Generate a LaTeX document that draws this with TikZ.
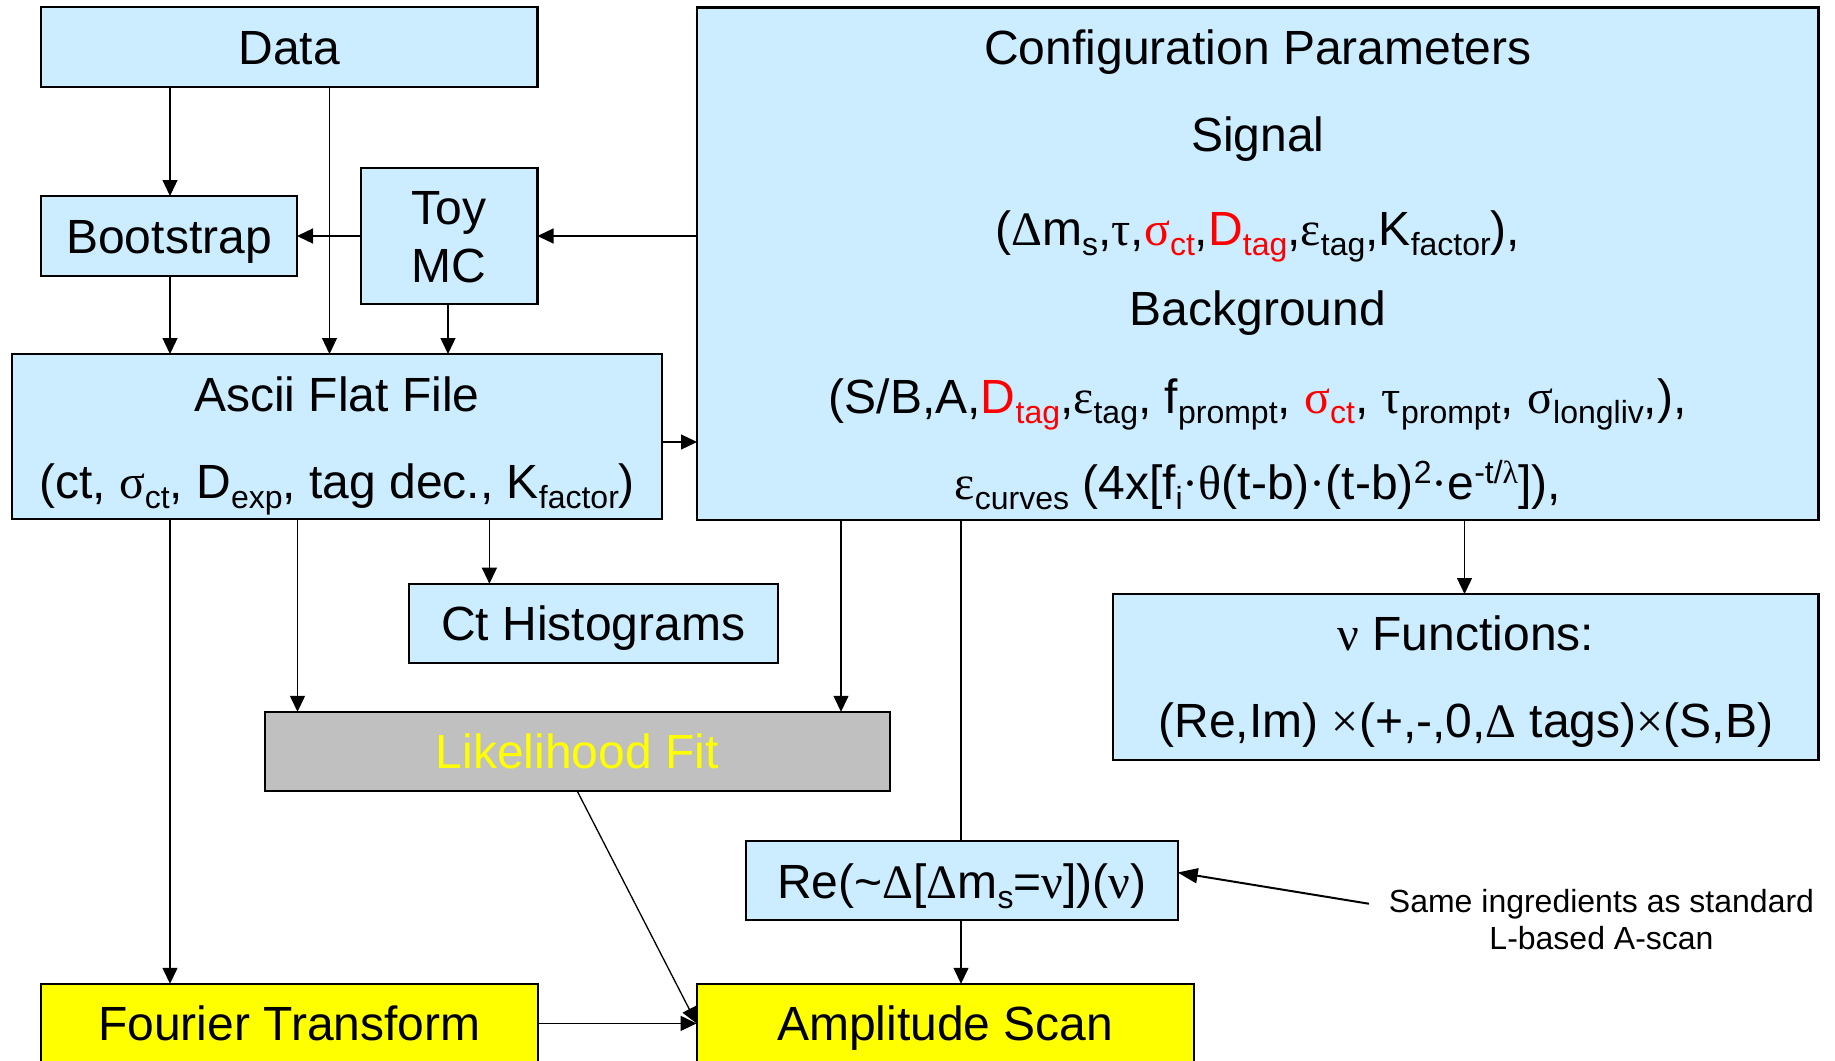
\documentclass[tikz,border=0pt]{standalone}
\usepackage{fontspec}
\usepackage{graphicx}
\setmainfont{Liberation Sans}
\newfontfamily\grk{Liberation Serif}
\usetikzlibrary{arrows.meta,calc}
\definecolor{lb}{HTML}{CCECFF}
\definecolor{gy}{HTML}{C0C0C0}
\definecolor{yl}{HTML}{FFFF00}
\definecolor{rd}{HTML}{FF0000}
\newcommand\gk[1]{{\grk #1}}
\newcommand\sbs[1]{\raisebox{-5pt}{\fontsize{16pt}{16pt}\selectfont #1}}
\newcommand\sps[1]{\raisebox{8pt}{\fontsize{16pt}{16pt}\selectfont #1}}
\newcommand\bx[6]{\node[#1, minimum width={(#4-#2)*0.5pt}, minimum height={(#5-#3)*0.5pt}] (#6) at (#2,#3) {};}
\begin{document}
\begin{tikzpicture}[x=0.5pt,y=-0.5pt,
  box/.style={draw=black, line width=1.1pt, inner sep=0pt, outer sep=0pt, anchor=north west, rectangle},
  lbox/.style={box, fill=lb},
  gbox/.style={box, fill=gy},
  ybox/.style={box, fill=yl},
  txt/.style={inner sep=0pt, outer sep=0pt, anchor=base, font=\fontsize{24pt}{28pt}\selectfont},
  small/.style={inner sep=0pt, outer sep=0pt, anchor=base, font=\fontsize{16pt}{19pt}\selectfont},
  arr/.style={line width=0.65pt, -{Triangle[length=8pt,width=7.5pt]}},
  arrb/.style={line width=1pt, -{Triangle[length=10pt,width=7.5pt]}},
  ln/.style={line width=0.65pt}]
\useasboundingbox (0,0) rectangle (1835,1060);
\clip (0,0) rectangle (1835,1060);

% boxes
\bx{lbox}{41}{7.3}{537.5}{87.3}{data}
\bx{lbox}{41}{196}{297}{276}{boot}
\bx{lbox}{361}{168}{537.5}{304}{toy}
\bx{lbox}{12}{354}{662}{519}{ascii}
\bx{lbox}{697}{7.4}{1818.5}{519.6}{conf}
\bx{lbox}{409}{583.7}{777.6}{662.9}{cth}
\bx{gbox}{265}{711.8}{889.7}{791.3}{lik}
\bx{lbox}{1113.3}{594}{1818.4}{760}{nu}
\bx{lbox}{745.6}{841}{1177.7}{920}{re}
\bx{ybox}{41}{983.8}{537.6}{1080}{four}
\bx{ybox}{696.6}{983.8}{1193.7}{1080}{amp}

% texts
\node[txt] (datat) at (289.25,64) {Data};
\node[txt] (boott) at (169,253) {Bootstrap};
\node[txt] (toyt1) at (449.25,224) {Toy};
\node[txt] (toyt2) at (449.25,282.7) {MC};
\node[txt] (asct1) at (337,411.7) {Ascii Flat File};
\node[txt] (asct2) at (337,498) {(ct, \gk{σ}\sbs{ct}, D\sbs{exp}, tag dec., K\sbs{factor})};
\node[txt] (conft1) at (1257.75,64) {Configuration Parameters};
\node[txt] (conft2) at (1257.75,151.5) {Signal};
\node[txt] (conft3) at (1257.75,245.5) {(\gk{Δ}m\sbs{s},\gk{τ},\textcolor{rd}{\gk{σ}\sbs{ct}},\textcolor{rd}{D\sbs{tag}},\gk{ε}\sbs{tag},K\sbs{factor}),};
\node[txt] (conft4) at (1257.75,325) {Background};
\node[txt] (conft5) at (1257.75,413.5) {(S/B,A,\textcolor{rd}{D\sbs{tag}},\gk{ε}\sbs{tag}, f\sbs{prompt}, \textcolor{rd}{\gk{σ}\sbs{ct}}, \gk{τ}\sbs{prompt}, \gk{σ}\sbs{longliv},),};
\node[txt] (conft6) at (1257.75,499) {\gk{ε}\sbs{curves} (4x[f\sbs{i}\gk{·θ}(t-b)\gk{·}(t-b)\sps{2}\gk{·}e\sps{-t/\gk{λ}}]),};
\node[txt] (ctht) at (593.3,640.5) {Ct Histograms};
\node[txt, text=yl] (likt) at (577.35,768.6) {Likelihood Fit};
\node[txt] (nut1) at (1465.85,650.9) {\gk{ν} Functions:};
\node[txt] (nut2) at (1465.85,737.6) {(Re,Im) \gk{×}(+,-,0,\gk{Δ} tags)\gk{×}(S,B)};
\node[txt] (ret) at (961.65,898.8) {Re(\textasciitilde\gk{Δ}[\gk{Δ}m\sbs{s}=\gk{ν}])(\gk{ν})};
\node[txt] (fourt) at (289.3,1040.7) {Fourier Transform};
\node[txt] (ampt) at (945.15,1040) {Amplitude Scan};
\node[small] (note1) at (1601.5,912) {Same ingredients as standard};
\node[small] (note2) at (1601.5,949.7) {L-based A-scan};

% helper coordinates
\coordinate (x170) at (170,0);
\coordinate (x298) at (297.5,0);
\coordinate (x330) at (329.5,0);
\coordinate (x448) at (448,0);
\coordinate (x489) at (489.4,0);
\coordinate (x841) at (841,0);
\coordinate (x961) at (961,0);
\coordinate (x1465) at (1464.5,0);
\coordinate (y236) at (0,236);
\coordinate (y442) at (0,442);
\coordinate (ampin) at (696.6,1023.4);

% connectors
\draw[arr] (data.south -| x170) -- (boot.north -| x170);
\draw[arr] (data.south -| x330) -- (ascii.north -| x330);
\draw[arr] (boot.south -| x170) -- (ascii.north -| x170);
\draw[arr] (toy.south -| x448) -- (ascii.north -| x448);
\draw[arr] (toy.west |- y236) -- (boot.east |- y236);
\draw[arr] (conf.west |- y236) -- (toy.east |- y236);
\draw[arr] (ascii.east |- y442) -- (conf.west |- y442);
\draw[arr] (ascii.south -| x170) -- (four.north -| x170);
\draw[arr] (ascii.south -| x298) -- (lik.north -| x298);
\draw[arr] (ascii.south -| x489) -- (cth.north -| x489);
\draw[arr] (conf.south -| x841) -- (lik.north -| x841);
\draw[ln] (conf.south -| x961) -- (re.north -| x961);
\draw[arr] (conf.south -| x1465) -- (nu.north -| x1465);
\draw[arr] (re.south -| x961) -- (amp.north -| x961);
\draw[arr] (four.east |- ampin) -- (ampin);
\draw[arr] (lik.south) -- (ampin);
\draw[arrb] ([xshift=-10pt]note1.west) -- ([yshift=4pt]re.east);
\end{tikzpicture}
\end{document}
